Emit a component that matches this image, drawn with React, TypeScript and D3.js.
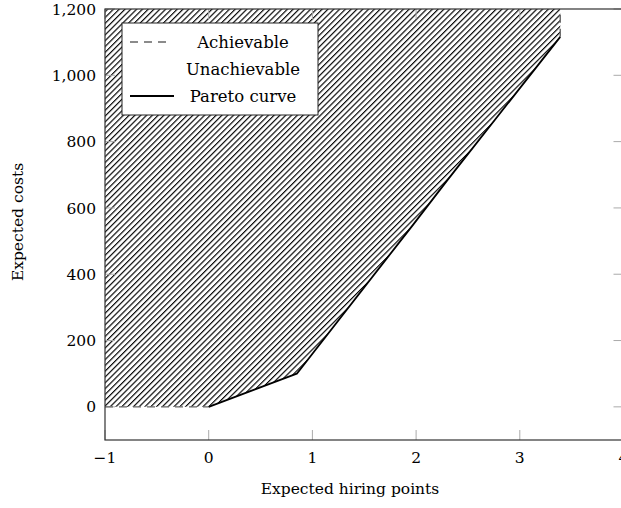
import React from "react";
import * as d3 from "d3";

// Pareto frontier: expected hiring points vs. expected costs
const paretoX = [0, 0.85, 1.97, 2.3, 3.39];
const paretoY = [0, 100, 549, 683, 1116];

// Achievable boundary segments (dashed)
const achievableLeftX = [-1, 0];
const achievableLeftY = [0, 0];
const achievableTopX = [3.39, 3.39];
const achievableTopY = [1116, 1200];

const xTicks = [-1, 0, 1, 2, 3, 4];
const yTicks = [0, 200, 400, 600, 800, 1000, 1200];
const legendLabels = ["Achievable", "Unachievable", "Pareto curve"];

const W = 621;
const H = 508;
const FONT = "'DejaVu Serif', serif";

export default function App() {
  const x = d3.scaleLinear().domain([-1, 4]).range([105, 623.5]);
  const y = d3.scaleLinear().domain([-100, 1200]).range([440, 9]);

  const pareto = paretoX.map((v, i) => [v, paretoY[i]] as [number, number]);
  const line = d3
    .line<[number, number]>()
    .x((d) => x(d[0]))
    .y((d) => y(d[1]));

  // Region above the frontier, bounded by the plot top and left edges
  const region: [number, number][] = [
    [achievableLeftX[0], achievableLeftY[0]],
    ...pareto,
    [achievableTopX[1], achievableTopY[1]],
    [-1, 1200],
  ];

  const leftDash = achievableLeftX.map((v, i) => [v, achievableLeftY[i]] as [number, number]);
  const topDash = achievableTopX.map((v, i) => [v, achievableTopY[i]] as [number, number]);

  const [x0, x1] = x.range();
  const [yb, yt] = y.range();
  const tickLen = 10;
  const tickColor = "#aaa";
  const fs = 15.5;

  return (
    <svg
      width={W}
      height={H}
      style={{ position: "absolute", left: 0, top: 0, background: "#fff" }}
      fontFamily={FONT}
    >
      <defs>
        <pattern
          id="hatch"
          patternUnits="userSpaceOnUse"
          width={4.1}
          height={4.1}
          patternTransform="rotate(45)"
        >
          <line x1={0.6} y1={0} x2={0.6} y2={4.1} stroke="#000" strokeWidth={1.15} />
        </pattern>
      </defs>

      {/* unachievable region */}
      <path d={line(region)! + "Z"} fill="url(#hatch)" stroke="none" />

      {/* ticks */}
      {xTicks.map((t) => (
        <g key={"xt" + t}>
          <line x1={x(t)} x2={x(t)} y1={yb} y2={yb - tickLen} stroke={tickColor} />
          <line x1={x(t)} x2={x(t)} y1={yt} y2={yt + tickLen} stroke={tickColor} />
        </g>
      ))}
      {yTicks.map((t) => (
        <g key={"yt" + t}>
          <line x1={x0} x2={x0 + tickLen} y1={y(t)} y2={y(t)} stroke={tickColor} />
          <line x1={x1} x2={x1 - tickLen} y1={y(t)} y2={y(t)} stroke={tickColor} />
        </g>
      ))}

      {/* achievable boundary */}
      <path d={line(leftDash)!} fill="none" stroke="#666" strokeWidth={1.4} strokeDasharray="8 6" />
      <path d={line(topDash)!} fill="none" stroke="#666" strokeWidth={1.4} strokeDasharray="8 6" />

      {/* Pareto curve */}
      <path d={line(pareto)!} fill="none" stroke="#000" strokeWidth={1.8} strokeLinejoin="round" />

      {/* frame */}
      <rect x={x0} y={yt} width={x1 - x0} height={yb - yt} fill="none" stroke="#333" strokeWidth={1.2} />

      {/* tick labels */}
      {xTicks.map((t) => (
        <text key={"xl" + t} x={x(t)} y={463} textAnchor="middle" fontSize={fs} fill="#000">
          {t < 0 ? "\u2212" + Math.abs(t) : String(t)}
        </text>
      ))}
      {yTicks.map((t) => (
        <text key={"yl" + t} x={96} y={y(t)} dy="0.36em" textAnchor="end" fontSize={fs} fill="#000">
          {d3.format(",")(t)}
        </text>
      ))}

      {/* axis titles */}
      <text x={350} y={494} textAnchor="middle" fontSize={fs} fill="#000">
        Expected hiring points
      </text>
      <text
        transform={`translate(23, 222) rotate(-90)`}
        textAnchor="middle"
        fontSize={fs}
        fill="#000"
      >
        Expected costs
      </text>

      {/* legend */}
      <g>
        <rect x={122} y={23} width={196} height={92} fill="#fff" stroke="#222" strokeWidth={1} />
        <line x1={130} x2={172} y1={42} y2={42} stroke="#666" strokeWidth={1.4} strokeDasharray="8 6" />
        <line x1={130} x2={174} y1={96} y2={96} stroke="#000" strokeWidth={1.8} />
        {legendLabels.map((l, i) => (
          <text key={l} x={243} y={42 + i * 27} dy="0.36em" textAnchor="middle" fontSize={16.5} fill="#000">
            {l}
          </text>
        ))}
      </g>
    </svg>
  );
}
